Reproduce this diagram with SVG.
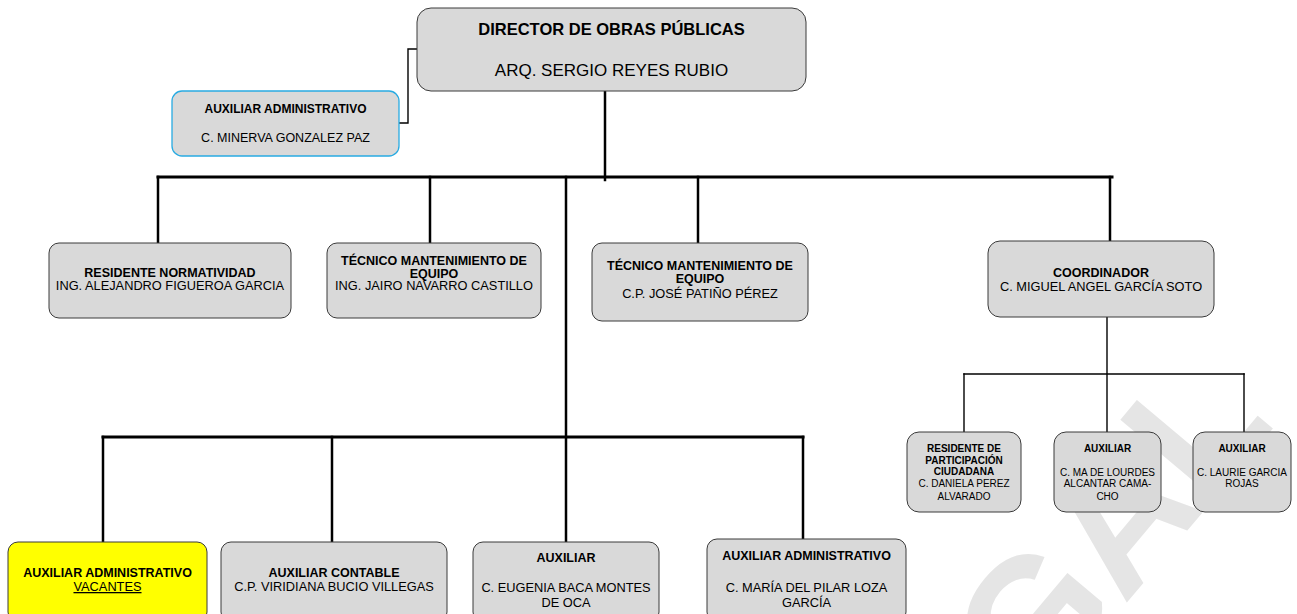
<svg xmlns="http://www.w3.org/2000/svg" width="1297" height="614" viewBox="0 0 1297 614">
<style>
text{font-family:"Liberation Sans",Arial,sans-serif;fill:#000;text-anchor:middle}
.b{font-weight:bold}
.box{fill:#d9d9d9;stroke:#3a3a3a;stroke-width:1}
.t{font-size:12.5px}
.n{font-size:12.8px}
.s{font-size:10px}
.c{fill:none;stroke:#000;stroke-linecap:square}
.thick{stroke-width:3}
.mid{stroke-width:2.5}
.thin{stroke-width:1.4}
.wm{font-family:"Liberation Sans",Arial,sans-serif;font-weight:bold;font-size:178px;fill:#e5e5e5;text-anchor:start}
</style>
<rect width="1297" height="614" fill="#fff"/>
<text class="wm" transform="translate(1035,712) rotate(-50)">GAL</text>
<g id="connectors">
<polyline class="c thin" points="399,123 408,123 408,49 417,49"/>
<line class="c mid" x1="605" y1="91" x2="605" y2="180"/>
<line class="c thick" x1="158" y1="177" x2="1112" y2="177"/>
<line class="c mid" x1="158" y1="177" x2="158" y2="243"/>
<line class="c mid" x1="430" y1="177" x2="430" y2="243"/>
<line class="c mid" x1="566" y1="177" x2="566" y2="542"/>
<line class="c mid" x1="698" y1="177" x2="698" y2="243"/>
<line class="c mid" x1="1110" y1="177" x2="1110" y2="241"/>
<line class="c thin" x1="1107" y1="317" x2="1107" y2="432"/>
<line class="c thin" x1="964" y1="374" x2="1244" y2="374"/>
<line class="c thin" x1="964" y1="374" x2="964" y2="432"/>
<line class="c thin" x1="1244" y1="374" x2="1244" y2="432"/>
<line class="c thick" x1="103" y1="437" x2="803" y2="437"/>
<line class="c mid" x1="103" y1="437" x2="103" y2="542"/>
<line class="c mid" x1="332" y1="437" x2="332" y2="542"/>
<line class="c mid" x1="803" y1="437" x2="803" y2="539"/>
</g>
<g id="director">
<rect class="box" x="417" y="8" width="389" height="83" rx="14"/>
<text class="b" x="611.5" y="35" font-size="16.5">DIRECTOR DE OBRAS PÚBLICAS</text>
<text x="611.5" y="76" font-size="17">ARQ. SERGIO REYES RUBIO</text>
</g>
<g id="aux-admin-top">
<rect class="box" x="172" y="91" width="227" height="65" rx="10" style="stroke:#29abe2;stroke-width:1.3"/>
<text class="b" x="285.5" y="113" font-size="12">AUXILIAR ADMINISTRATIVO</text>
<text x="285.5" y="142" font-size="12.5">C. MINERVA GONZALEZ PAZ</text>
</g>
<g id="residente-normatividad">
<rect class="box" x="49" y="243" width="242" height="75" rx="10"/>
<text class="b t" x="170" y="277">RESIDENTE NORMATIVIDAD</text>
<text class="n" x="170" y="290">ING. ALEJANDRO FIGUEROA GARCIA</text>
</g>
<g id="tecnico-1">
<rect class="box" x="327" y="243" width="214" height="75" rx="10"/>
<text class="b t" x="434" y="265">TÉCNICO MANTENIMIENTO DE</text>
<text class="b t" x="434" y="277.5">EQUIPO</text>
<text class="n" x="434" y="290">ING. JAIRO NAVARRO CASTILLO</text>
</g>
<g id="tecnico-2">
<rect class="box" x="592" y="243" width="216" height="78" rx="10"/>
<text class="b t" x="700" y="270">TÉCNICO MANTENIMIENTO DE</text>
<text class="b t" x="700" y="283">EQUIPO</text>
<text class="n" x="700" y="298">C.P. JOSÉ PATIÑO PÉREZ</text>
</g>
<g id="coordinador">
<rect class="box" x="988" y="241" width="226" height="76" rx="12"/>
<text class="b t" x="1101" y="276.5">COORDINADOR</text>
<text class="n" x="1101" y="291">C. MIGUEL ANGEL GARCÍA SOTO</text>
</g>
<g id="residente-participacion">
<rect class="box" x="907" y="432" width="114" height="80" rx="12"/>
<text class="b s" x="964" y="452">RESIDENTE DE</text>
<text class="b s" x="964" y="464">PARTICIPACIÓN</text>
<text class="b s" x="964" y="475">CIUDADANA</text>
<text class="s" x="964" y="487">C. DANIELA PEREZ</text>
<text class="s" x="964" y="500">ALVARADO</text>
</g>
<g id="auxiliar-lourdes">
<rect class="box" x="1054" y="432" width="107" height="80" rx="12"/>
<text class="b s" x="1107.5" y="452">AUXILIAR</text>
<text class="s" x="1107.5" y="475.5">C. MA DE LOURDES</text>
<text class="s" x="1107.5" y="487">ALCANTAR CAMA-</text>
<text class="s" x="1107.5" y="500">CHO</text>
</g>
<g id="auxiliar-laurie">
<rect class="box" x="1193" y="432" width="98" height="80" rx="12"/>
<text class="b s" x="1242" y="452">AUXILIAR</text>
<text class="s" x="1242" y="475.5">C. LAURIE GARCIA</text>
<text class="s" x="1242" y="487">ROJAS</text>
</g>
<g id="aux-admin-vacantes">
<rect class="box" x="8" y="542" width="199" height="80" rx="10" style="fill:#ffff00"/>
<text class="b t" x="107.5" y="576.5">AUXILIAR ADMINISTRATIVO</text>
<text class="n" x="107.5" y="591" text-decoration="underline">VACANTES</text>
</g>
<g id="aux-contable">
<rect class="box" x="221" y="542" width="226" height="80" rx="10"/>
<text class="b t" x="334" y="576.5">AUXILIAR CONTABLE</text>
<text class="n" x="334" y="591">C.P. VIRIDIANA BUCIO VILLEGAS</text>
</g>
<g id="auxiliar-eugenia">
<rect class="box" x="473" y="542" width="186" height="80" rx="10"/>
<text class="b t" x="566" y="561.5">AUXILIAR</text>
<text class="n" x="566" y="591.5">C. EUGENIA BACA MONTES</text>
<text class="n" x="566" y="606.5">DE OCA</text>
</g>
<g id="aux-admin-maria">
<rect class="box" x="707" y="539" width="199" height="83" rx="10"/>
<text class="b t" x="806.5" y="559.5">AUXILIAR ADMINISTRATIVO</text>
<text class="n" x="806.5" y="591.5">C. MARÍA DEL PILAR LOZA</text>
<text class="n" x="806.5" y="606.5">GARCÍA</text>
</g>
</svg>
